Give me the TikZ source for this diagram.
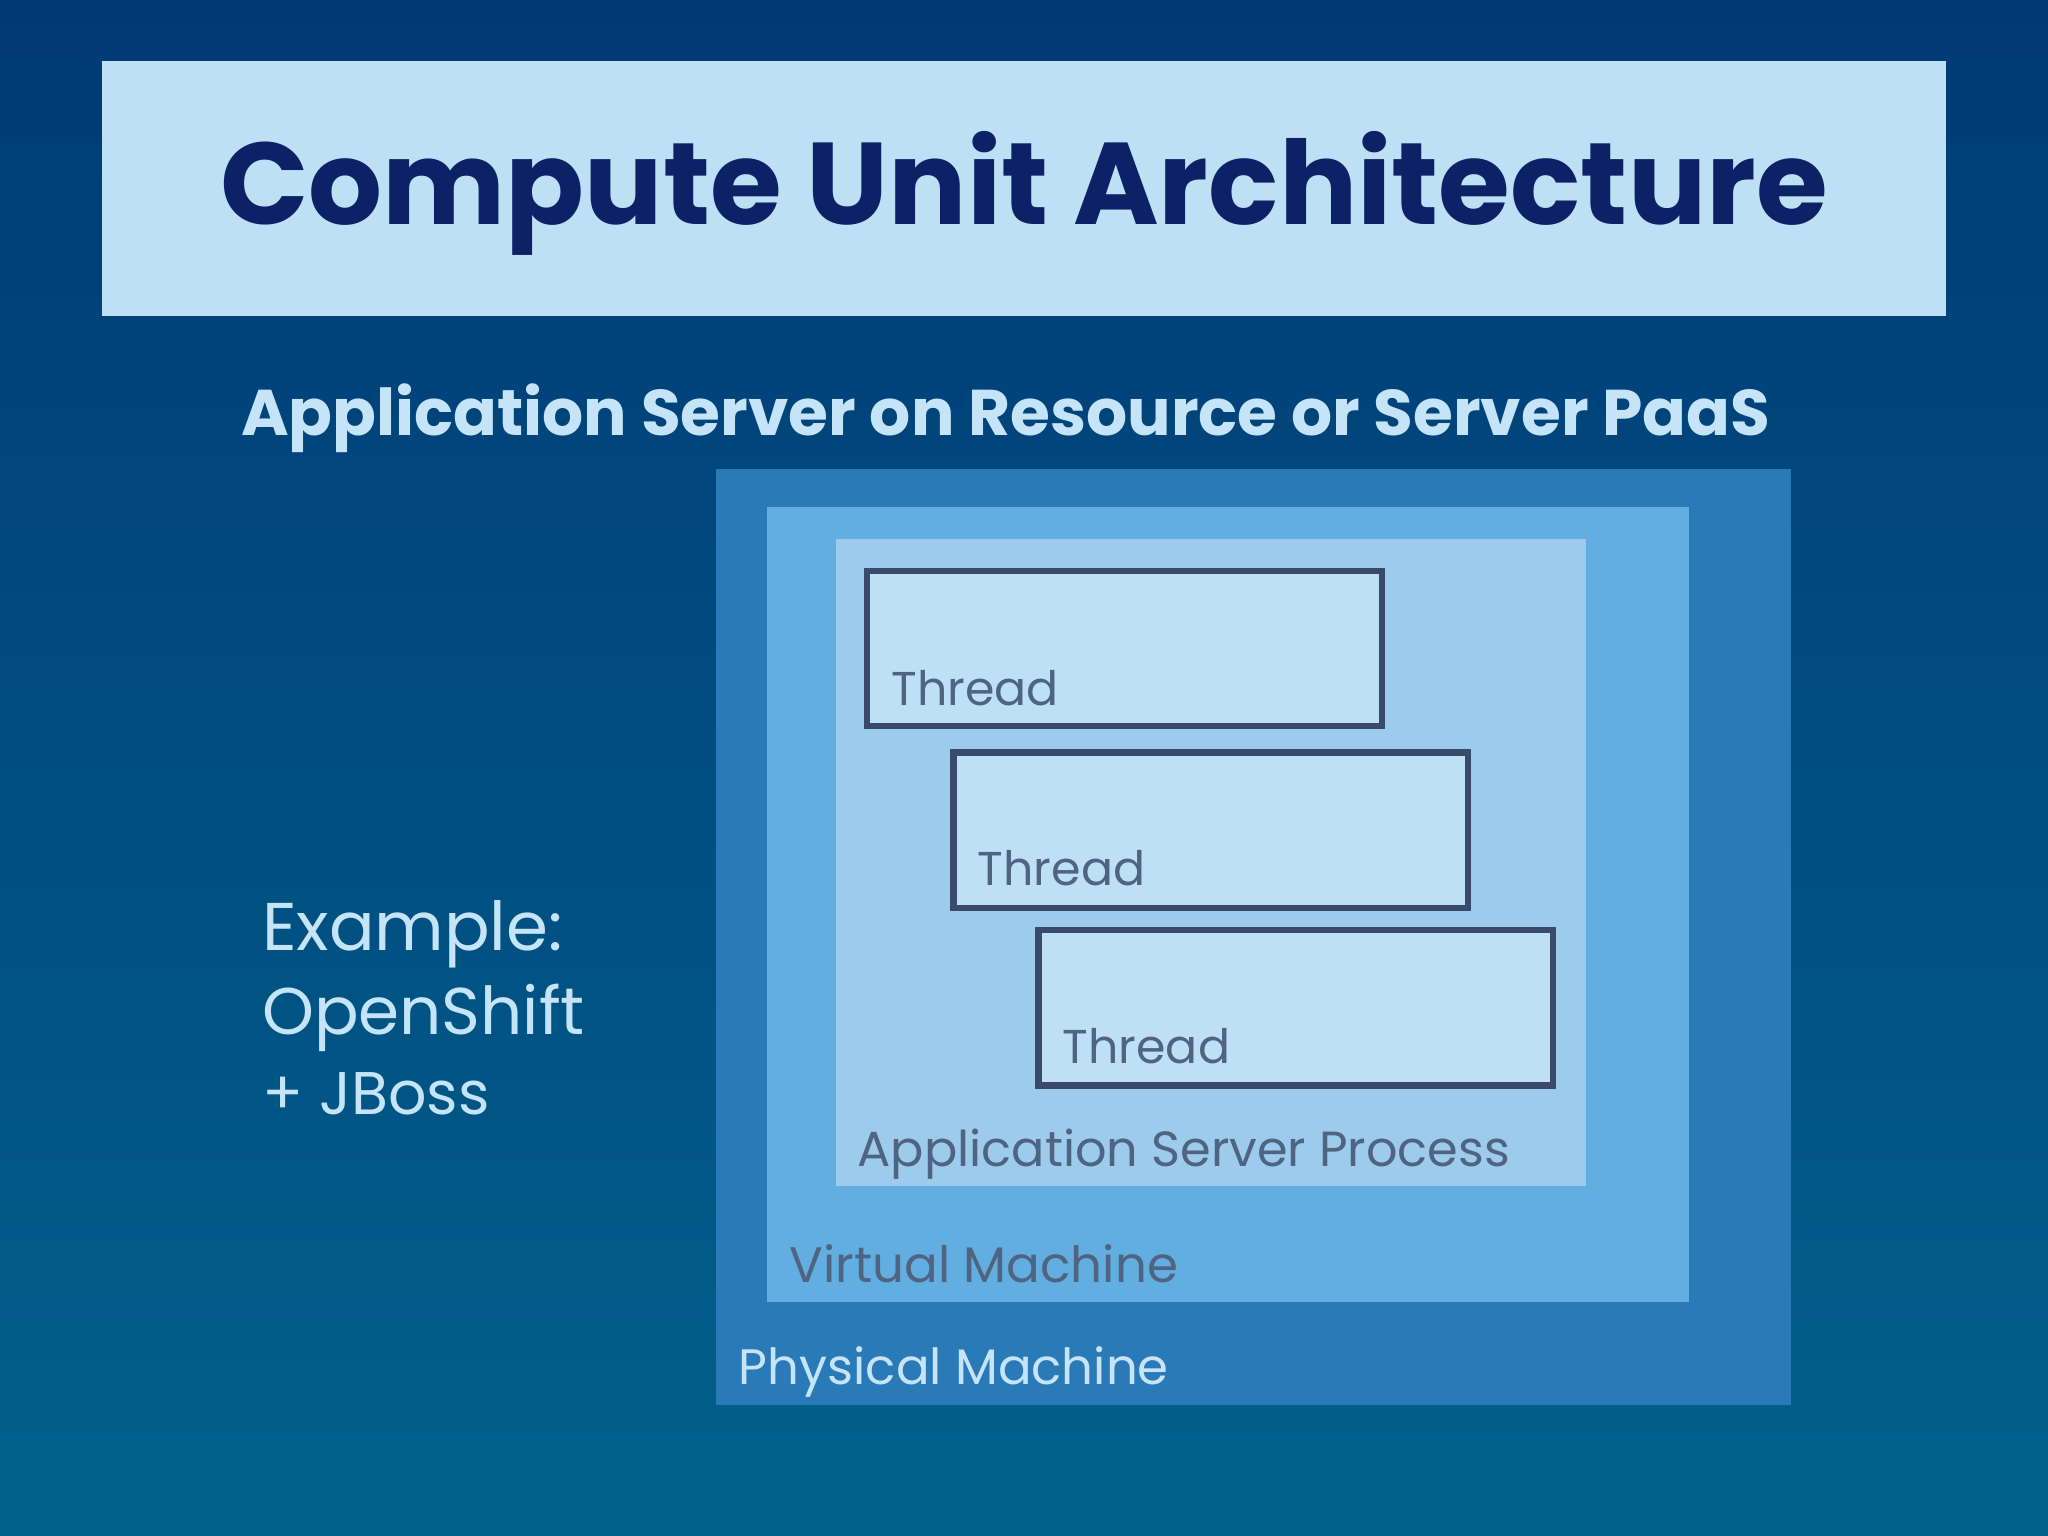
\documentclass[tikz,border=0pt]{standalone}
\usepackage{fontspec}
\setmainfont{Poppins}
\usepackage{graphicx}
\definecolor{bgtop}{HTML}{003A75}
\definecolor{bgbot}{HTML}{02618B}
\definecolor{titlebg}{HTML}{BDE0F5}
\definecolor{navy}{HTML}{0D2166}
\definecolor{light}{HTML}{C6E4F7}
\definecolor{phys}{HTML}{2A7AB8}
\definecolor{vm}{HTML}{62AEE0}
\definecolor{app}{HTML}{9CCBEB}
\definecolor{border}{HTML}{3A4A6A}
\definecolor{lab}{HTML}{4F6480}
\begin{document}
\begin{tikzpicture}[x=0.01cm,y=-0.01cm,
  thread/.style={draw=border,line width=1.4pt,fill=titlebg},
  tlab/.style={anchor=base west,inner sep=0,text=lab},
  blab/.style={anchor=base west,inner sep=0}]
\useasboundingbox (0,0) rectangle (1568,1176);
\shade[top color=bgtop,bottom color=bgbot] (0,0) rectangle (1568,1176);
\fill[titlebg] (78,47) rectangle (1490,242);
\node (title) at (784,148) [inner sep=0,text=navy,font=\bfseries] {\resizebox{12.3cm}{!}{Compute Unit Architecture}};
\node (sub) at (770,320) [inner sep=0,text=light,font=\bfseries] {\resizebox{11.7cm}{!}{Application Server on Resource or Server PaaS}};
\fill[phys] (548,359) rectangle (1371,1076);
\fill[vm] (587,388) rectangle (1293,997);
\fill[app] (640,413) rectangle (1214,908);
\draw[thread] (664,437) rectangle (1058,556);
\draw[thread] (730,576) rectangle (1124,695);
\draw[thread] (795,712) rectangle (1189,831);
\node[tlab] (t1) at (682,540) {\resizebox{1.28cm}{!}{Thread}};
\node[tlab] (t2) at (748,678) {\resizebox{1.28cm}{!}{Thread}};
\node[tlab] (t3) at (813,814) {\resizebox{1.28cm}{!}{Thread}};
\node[blab,text=lab] (asp) at (656,893) {\resizebox{4.99cm}{!}{Application Server Process}};
\node[blab,text=lab] (vml) at (604,982) {\resizebox{2.97cm}{!}{Virtual Machine}};
\node[blab,text=light] (pml) at (565,1060) {\resizebox{3.29cm}{!}{Physical Machine}};
\node[anchor=base west,inner sep=0,text=light] (ex1) at (200,728) {\resizebox{2.3cm}{!}{Example:}};
\node[anchor=base west,inner sep=0,text=light] (ex2) at (200,792) {\resizebox{2.47cm}{!}{OpenShift}};
\node[anchor=base west,inner sep=0,text=light] (ex3) at (200,853) {\resizebox{1.74cm}{!}{+ JBoss}};
\end{tikzpicture}
\end{document}
